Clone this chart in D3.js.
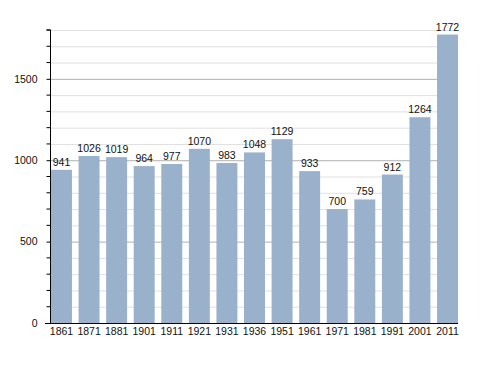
<!DOCTYPE html>
<html><head><meta charset="utf-8">
<script src="https://cdn.jsdelivr.net/npm/d3@7"></script>
<style>body{margin:0;background:#fff}svg{display:block}text{font-family:"Liberation Sans",Arial,sans-serif}</style>
</head><body>
<svg id="c" width="488" height="373"></svg>
<script>
const years = ["1861","1871","1881","1901","1911","1921","1931","1936","1951","1961","1971","1981","1991","2001","2011"];
const population = [941,1026,1019,964,977,1070,983,1048,1129,933,700,759,912,1264,1772];
const majorTicks = [0,500,1000,1500];

const svg = d3.select("#c");
const x = d3.scaleBand().domain(years).range([51,458]).paddingInner(0.24).paddingOuter(0);
const y = d3.scaleLinear().domain([0,1800]).range([323,30]);
const minor = d3.range(100,1801,100).filter(v=>v%500!==0);
const fs = 10.5;

// minor grid
svg.append("g").selectAll("line").data(minor).join("line")
  .attr("x1",51).attr("x2",458).attr("y1",d=>y(d)+0.5).attr("y2",d=>y(d)+0.5)
  .attr("stroke","#e0e0e0").attr("stroke-width",1);
// major grid
svg.append("g").selectAll("line").data(majorTicks.filter(d=>d>0)).join("line")
  .attr("x1",51).attr("x2",458).attr("y1",d=>y(d)+0.5).attr("y2",d=>y(d)+0.5)
  .attr("stroke","#b0b0b0").attr("stroke-width",1);

// bars
svg.append("g").selectAll("rect").data(population).join("rect")
  .attr("x",(d,i)=>x(years[i])).attr("width",x.bandwidth())
  .attr("y",d=>y(d)).attr("height",d=>y(0)-y(d))
  .attr("fill","#9ab1cc");

// value labels
svg.append("g").selectAll("text").data(population).join("text")
  .attr("x",(d,i)=>x(years[i])+x.bandwidth()/2).attr("y",d=>y(d)-4)
  .attr("text-anchor","middle").attr("font-size",fs).attr("fill","#111")
  .text(d=>d);

// y axis
const yAxis = svg.append("g").attr("transform","translate(50.5,0)")
  .call(d3.axisLeft(y).tickValues(majorTicks).tickSize(4).tickPadding(9).tickFormat(d3.format("d")));
yAxis.append("g").selectAll("line").data(minor.concat([1800])).join("line")
  .attr("x1",-4).attr("x2",0).attr("y1",d=>y(d)).attr("y2",d=>y(d)).attr("stroke","#000");
yAxis.select(".domain").attr("d","M0,"+y(1800)+"V"+y(0));
yAxis.selectAll("text").attr("font-size",fs).attr("font-family","Liberation Sans, Arial, sans-serif").attr("fill","#111");

// x axis
const xAxis = svg.append("g").attr("transform","translate(0,323.5)")
  .call(d3.axisBottom(x).tickSize(0).tickPadding(4));
xAxis.select(".domain").attr("d","M45,0H458");
xAxis.selectAll("text").attr("font-size",fs).attr("font-family","Liberation Sans, Arial, sans-serif").attr("fill","#111");
</script>
</body></html>
